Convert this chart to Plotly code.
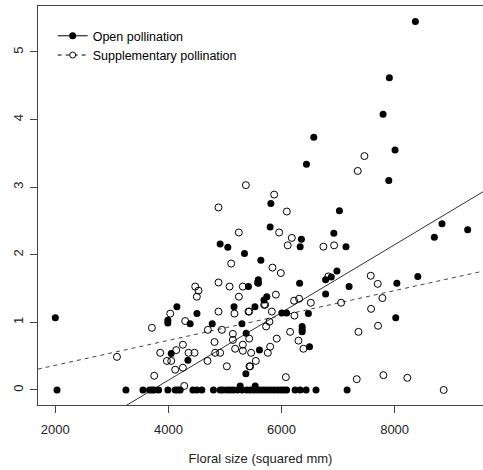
import plotly.graph_objects as go

# Open pollination (filled points)
open_x = [2000, 8367, 7907, 7796, 6571, 6441, 8008, 7897, 5811, 7024, 5799, 6925, 6352, 6330, 7140,
          8838, 8703, 9292, 4915, 5050, 5345, 5635, 6980, 6780, 6880, 6320, 5590, 5590, 5415, 7195,
          6780, 8410, 8040, 8020, 5740, 5690, 5530, 6005, 6090, 6475, 5300, 5375, 6365, 6365, 6365,
          6495, 5610, 5370, 5535, 4150, 4505, 3990, 3990, 4385, 4775, 5160, 4050, 4345, 5269,
          2030, 3249, 3550, 3666, 3709, 3749, 3826, 3991, 4120, 4168, 4208, 4433, 4503, 4591, 4796,
          4915, 4963, 5033, 5092, 5150, 5221, 5304, 5387, 5450, 5510, 5570, 5630, 5690, 5750, 5810,
          5870, 5930, 5990, 6040, 6090, 6240, 6330, 6435, 6610, 7160]
open_y = [1.07, 5.45, 4.62, 4.08, 3.74, 3.34, 3.55, 3.10, 2.76, 2.65, 2.41, 2.32, 2.23, 2.12, 2.12,
          2.46, 2.26, 2.37, 2.16, 2.11, 2.02, 1.92, 1.76, 1.63, 1.67, 1.58, 1.63, 1.58, 1.53, 1.53,
          1.42, 1.68, 1.58, 1.07, 1.38, 1.33, 1.23, 1.14, 1.14, 1.13, 0.98, 0.84, 0.94, 0.90, 0.86,
          0.64, 0.59, 0.24, 0.06, 1.23, 1.13, 1.03, 0.99, 0.98, 0.98, 1.23, 0.54, 0.44, 0.06,
          0, 0, 0, 0, 0, 0, 0, 0, 0, 0, 0, 0, 0, 0, 0,
          0, 0, 0, 0, 0, 0, 0, 0, 0, 0, 0, 0, 0, 0, 0,
          0, 0, 0, 0, 0, 0, 0, 0, 0, 0]

# Supplementary pollination (open circles)
supp_x = [5370, 4886, 5245, 7466, 7348, 5870, 6094, 5958, 6182, 5110, 4886, 5081, 5316, 4474, 4532,
          4503, 5246, 4886, 5168, 5416, 4032, 4297, 3708, 4698, 4945, 5140, 5140, 4815, 5316, 4256,
          5180, 5316, 4138, 3855, 4356, 4462, 4827, 4915, 3973, 4050, 4692, 3090, 4256, 4120, 5033,
          5433, 3749, 4280, 6110, 6741, 6930, 5840, 5988, 5582, 6829, 7578, 7702, 7784, 7584, 7707,
          7361, 5900, 6223, 6311, 6518, 7054, 5428, 5829, 5693, 5710, 6228, 5728, 5787, 6152, 6300,
          5916, 5428, 6388, 5799, 5758, 5463, 5546, 5446, 6077, 7330, 7802, 8225, 8868]
supp_y = [3.03, 2.70, 2.33, 3.46, 3.24, 2.89, 2.64, 2.33, 2.25, 1.87, 1.59, 1.53, 1.53, 1.53, 1.47,
          1.38, 1.38, 1.16, 1.13, 1.16, 1.13, 1.02, 0.92, 0.89, 0.89, 0.83, 0.74, 0.71, 0.67, 0.67,
          0.61, 0.58, 0.59, 0.55, 0.55, 0.55, 0.55, 0.55, 0.43, 0.43, 0.43, 0.49, 0.33, 0.30, 0.35,
          0.35, 0.21, 0.06, 2.14, 2.12, 2.14, 1.81, 1.73, 1.59, 1.68, 1.69, 1.57, 1.36, 1.20, 0.95,
          0.86, 1.41, 1.32, 1.35, 1.29, 1.29, 1.16, 1.16, 1.26, 1.26, 1.10, 0.94, 1.01, 0.86, 0.73,
          0.76, 0.76, 0.61, 0.64, 0.55, 0.55, 0.43, 0.35, 0.19, 0.16, 0.22, 0.18, 0]

# Fitted lines (intercept, slope)
open_fit = (-1.859, 0.000501)
supp_fit = (-0.002, 0.000184)
line_x = [1000, 10000]

x_ticks = [2000, 4000, 6000, 8000]
y_ticks = [0, 1, 2, 3, 4, 5]

fig = go.Figure()
fig.add_trace(go.Scatter(x=line_x, y=[open_fit[0] + open_fit[1] * v for v in line_x], mode="lines",
                         line=dict(color="#333", width=1), showlegend=False, hoverinfo="skip"))
fig.add_trace(go.Scatter(x=line_x, y=[supp_fit[0] + supp_fit[1] * v for v in line_x], mode="lines",
                         line=dict(color="#444", width=1, dash="4px,4px"), showlegend=False, hoverinfo="skip"))
fig.add_trace(go.Scatter(x=open_x, y=open_y, mode="markers", showlegend=False,
                         marker=dict(size=7, color="black", line=dict(width=0))))
fig.add_trace(go.Scatter(x=supp_x, y=supp_y, mode="markers", showlegend=False,
                         marker=dict(size=7, color="rgba(255,255,255,0)", symbol="circle",
                                     line=dict(width=1, color="black"))))
# legend entries
fig.add_trace(go.Scatter(x=[None], y=[None], mode="lines+markers", name="Open pollination",
                         line=dict(color="black", width=1), marker=dict(size=7, color="black")))
fig.add_trace(go.Scatter(x=[None], y=[None], mode="lines+markers", name="Supplementary pollination",
                         line=dict(color="black", width=1, dash="4px,4px"),
                         marker=dict(size=6, symbol="circle", color="white",
                                     line=dict(width=1, color="black"))))

font = "Liberation Sans, Arial, sans-serif"
fig.update_layout(
    width=483, height=470,
    margin=dict(l=38, r=0, t=6, b=65, autoexpand=False),
    paper_bgcolor="white", plot_bgcolor="white",
    font=dict(family=font, size=13, color="#222"),
    legend=dict(x=0.033, y=0.962, xanchor="left", yanchor="top", bgcolor="rgba(0,0,0,0)",
                font=dict(size=12.5, color="black"), tracegroupgap=0),
    xaxis=dict(range=[1694, 9563], tickvals=x_ticks, ticks="outside", ticklen=7, tickcolor="#444",
               showline=True, linecolor="#444", linewidth=1, mirror=True, showgrid=False, zeroline=False,
               ticklabelstandoff=5, automargin=False,
               title=dict(text="Floral size (squared mm)", standoff=18, font=dict(size=13))),
    yaxis=dict(range=[-0.222, 5.68], tickvals=y_ticks, ticks="outside", ticklen=7, tickcolor="#444",
               tickangle=-90, showline=True, linecolor="#444", linewidth=1, showgrid=False,
               zeroline=False, automargin=False, ticklabelstandoff=2),
)
fig.write_html("out.html", config={"displayModeBar": False},
               post_script="document.body.style.margin='0';")
